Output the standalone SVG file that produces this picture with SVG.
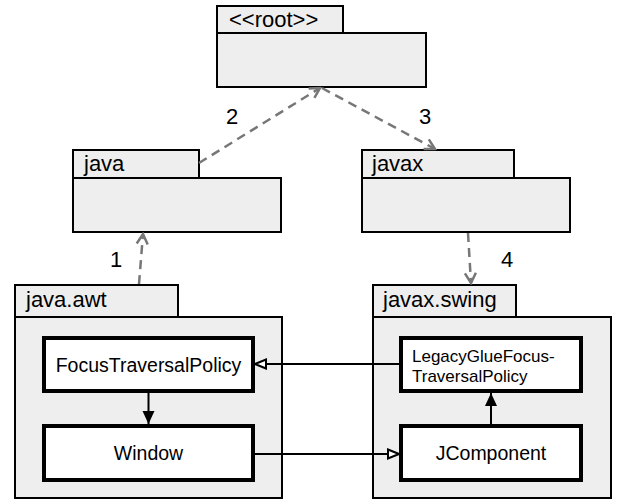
<svg xmlns="http://www.w3.org/2000/svg" width="617" height="504" viewBox="0 0 617 504">
<style>
.pk{fill:#eeeeee;stroke:#000;stroke-width:2}
.cl{fill:#fff;stroke:#000;stroke-width:4}
.t{font-family:"Liberation Sans",Arial,sans-serif;font-size:22px;fill:#000}
.c{font-family:"Liberation Sans",Arial,sans-serif;font-size:19.5px;fill:#000;text-anchor:middle}
.s{font-family:"Liberation Sans",Arial,sans-serif;font-size:17px;fill:#000}
.dep{fill:none;stroke:#777;stroke-width:2.5;stroke-dasharray:9 6}
.sol{fill:none;stroke:#000;stroke-width:2}
</style>
<defs>
<marker id="open" viewBox="0 0 14 14" markerWidth="14" markerHeight="14" refX="12" refY="7" orient="auto" markerUnits="userSpaceOnUse">
<path d="M2,1.5 L12,7 L2,12.5" fill="none" stroke="#777" stroke-width="2.5"/>
</marker>
<marker id="hollow" viewBox="0 0 14 12" markerWidth="14" markerHeight="12" refX="13" refY="6" orient="auto" markerUnits="userSpaceOnUse">
<path d="M2,1.5 L13,6 L2,10.5 Z" fill="#fff" stroke="#000" stroke-width="2"/>
</marker>
<marker id="filled" viewBox="0 0 13 13" markerWidth="13" markerHeight="13" refX="13" refY="6.5" orient="auto" markerUnits="userSpaceOnUse">
<path d="M0,0.5 L13,6.5 L0,12.5 Z" fill="#000"/>
</marker>
</defs>

<g id="root">
<rect class="pk" x="217" y="6" width="126" height="27"/>
<rect class="pk" x="217" y="33" width="209" height="54"/>
<text class="t" x="229" y="27">&lt;&lt;root&gt;&gt;</text>
</g>

<g id="java">
<rect class="pk" x="73" y="150" width="126" height="28"/>
<rect class="pk" x="73" y="178" width="208" height="54"/>
<text class="t" x="84" y="171">java</text>
</g>

<g id="javax">
<rect class="pk" x="362" y="150" width="152" height="28"/>
<rect class="pk" x="362" y="178" width="208" height="54"/>
<text class="t" x="372" y="171">javax</text>
</g>

<g id="java.awt">
<rect class="pk" x="15" y="285" width="163" height="32"/>
<rect class="pk" x="15" y="317" width="267" height="181"/>
<text class="t" x="26" y="307">java.awt</text>
</g>

<g id="javax.swing">
<rect class="pk" x="373" y="285" width="143" height="32"/>
<rect class="pk" x="373" y="317" width="238" height="181"/>
<text class="t" x="383" y="307">javax.swing</text>
</g>

<g id="FocusTraversalPolicy">
<rect class="cl" x="44" y="338" width="209" height="53"/>
<text class="c" x="148.5" y="372">FocusTraversalPolicy</text>
</g>

<g id="Window">
<rect class="cl" x="44" y="426" width="209" height="54"/>
<text class="c" x="148.5" y="460">Window</text>
</g>

<g id="LegacyGlueFocusTraversalPolicy">
<rect class="cl" x="401" y="338" width="180" height="53"/>
<text class="s" x="412" y="362">LegacyGlueFocus-</text>
<text class="s" x="412" y="382">TraversalPolicy</text>
</g>

<g id="JComponent">
<rect class="cl" x="401" y="426" width="180" height="54"/>
<text class="c" x="491" y="460">JComponent</text>
</g>

<g id="connectors">
<line class="dep" x1="139" y1="284" x2="143" y2="234" marker-end="url(#open)"/>
<line class="dep" x1="199" y1="163" x2="320" y2="88" marker-end="url(#open)"/>
<line class="dep" x1="322" y1="88" x2="435" y2="149" marker-end="url(#open)"/>
<line class="dep" x1="468" y1="233" x2="471" y2="283" marker-end="url(#open)"/>
<line class="sol" x1="399" y1="364" x2="255" y2="364" marker-end="url(#hollow)"/>
<line class="sol" x1="255" y1="454" x2="399" y2="454" marker-end="url(#hollow)"/>
<line class="sol" x1="148.5" y1="393" x2="148.5" y2="424" marker-end="url(#filled)"/>
<line class="sol" x1="491" y1="424" x2="491" y2="393" marker-end="url(#filled)"/>
<text class="t" x="110" y="267">1</text>
<text class="t" x="226" y="124">2</text>
<text class="t" x="419" y="124">3</text>
<text class="t" x="501" y="267">4</text>
</g>
</svg>
